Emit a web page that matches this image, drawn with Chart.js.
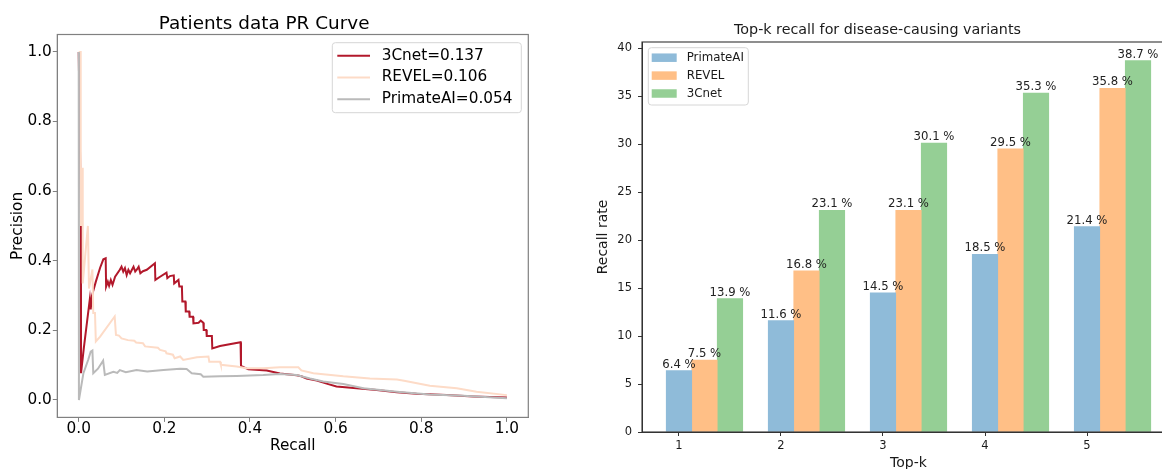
<!DOCTYPE html>
<html>
<head>
<meta charset="utf-8">
<script src="https://cdn.jsdelivr.net/npm/chart.js@4.4.1/dist/chart.umd.min.js"></script>
<style>
    html, body { margin: 0; padding: 0; background: #fff; overflow: hidden; width: 1162px; height: 469px; }
    #prChart { position: absolute; left: 0; top: 0; }
    #topkChart { position: absolute; left: 580px; top: 0; }
</style>
</head>
<body>
<canvas id="prChart" width="586" height="469"></canvas>
<canvas id="topkChart" width="657" height="480"></canvas>
<script>
// PR curve (recall / precision)
const cnetRecall = [0, 0.0054, 0.0054, 0.012, 0.020, 0.026, 0.028, 0.031, 0.040, 0.050,
    0.0575, 0.063, 0.064, 0.068, 0.071, 0.075, 0.079, 0.085, 0.096, 0.100,
    0.104, 0.108, 0.112, 0.116, 0.120, 0.128, 0.132, 0.136, 0.140, 0.144,
    0.150, 0.159, 0.178, 0.179, 0.190, 0.205, 0.207, 0.213, 0.222, 0.223,
    0.233, 0.235, 0.241, 0.242, 0.249, 0.250, 0.258, 0.259, 0.267, 0.268,
    0.280, 0.285, 0.291, 0.292, 0.298, 0.299, 0.311, 0.312, 0.330, 0.378,
    0.379, 0.384, 0.396, 0.439, 0.470, 0.509, 0.520, 0.532, 0.556, 0.579,
    0.602, 0.649, 0.696, 0.743, 0.789, 0.859, 0.922, 1.0];
const cnetPrecision = [1.0, 0.50, 0.077, 0.15, 0.23, 0.29, 0.26, 0.30, 0.34, 0.38,
    0.404, 0.407, 0.326, 0.340, 0.328, 0.345, 0.331, 0.354, 0.374, 0.383,
    0.369, 0.379, 0.359, 0.374, 0.364, 0.383, 0.369, 0.375, 0.383, 0.364,
    0.370, 0.374, 0.393, 0.345, 0.354, 0.366, 0.350, 0.356, 0.358, 0.335,
    0.345, 0.326, 0.326, 0.283, 0.283, 0.254, 0.254, 0.239, 0.239, 0.220,
    0.222, 0.228, 0.222, 0.201, 0.201, 0.184, 0.184, 0.148, 0.155, 0.166,
    0.098, 0.095, 0.088, 0.085, 0.076, 0.071, 0.068, 0.062, 0.056, 0.047,
    0.039, 0.034, 0.029, 0.022, 0.018, 0.014, 0.010, 0.007];

const revelRecall = [0, 0.0047, 0.0047, 0.0094, 0.0094, 0.0215, 0.024, 0.032, 0.034, 0.038,
    0.040, 0.050, 0.084, 0.087, 0.094, 0.100, 0.115, 0.130, 0.134, 0.150,
    0.155, 0.185, 0.190, 0.203, 0.205, 0.220, 0.224, 0.237, 0.244, 0.276,
    0.303, 0.305, 0.330, 0.332, 0.369, 0.392, 0.431, 0.470, 0.513, 0.520,
    0.548, 0.618, 0.680, 0.743, 0.760, 0.820, 0.883, 0.929, 1.0];
const revelPrecision = [1.0, 1.0, 0.50, 0.667, 0.335, 0.50, 0.32, 0.375, 0.25, 0.25,
    0.168, 0.182, 0.240, 0.187, 0.185, 0.177, 0.172, 0.170, 0.165, 0.163,
    0.154, 0.150, 0.144, 0.140, 0.134, 0.130, 0.120, 0.125, 0.115, 0.123,
    0.125, 0.110, 0.110, 0.101, 0.096, 0.091, 0.091, 0.094, 0.094, 0.085,
    0.077, 0.068, 0.062, 0.059, 0.055, 0.041, 0.034, 0.024, 0.014];

const primateRecall = [0, 0.0005, 0.011, 0.022, 0.028, 0.032, 0.034, 0.045, 0.057, 0.061,
    0.081, 0.090, 0.096, 0.110, 0.135, 0.160, 0.198, 0.237, 0.252, 0.264,
    0.285, 0.291, 0.330, 0.369, 0.431, 0.470, 0.509, 0.540, 0.571, 0.618,
    0.665, 0.743, 0.820, 0.898, 1.0];
const primatePrecision = [1.0, 0.0, 0.077, 0.115, 0.139, 0.142, 0.077, 0.090, 0.113, 0.072,
    0.081, 0.078, 0.086, 0.080, 0.086, 0.082, 0.086, 0.090, 0.089, 0.077,
    0.074, 0.067, 0.068, 0.069, 0.072, 0.075, 0.072, 0.062, 0.053, 0.046,
    0.034, 0.024, 0.016, 0.012, 0.005];

const prLabels = ["3Cnet=0.137", "REVEL=0.106", "PrimateAI=0.054"];
const prTicks = [0, 0.2, 0.4, 0.6, 0.8, 1.0];

// Top-k recall (%)
const topK = [1, 2, 3, 4, 5];
const topkLabels = ["PrimateAI", "REVEL", "3Cnet"];
const primateTopK = [6.4, 11.6, 14.5, 18.5, 21.4];
const revelTopK = [7.5, 16.8, 23.1, 29.5, 35.8];
const cnetTopK = [13.9, 23.1, 30.1, 35.3, 38.7];

const FONT = "DejaVu Sans";

function toPoints(xs, ys) {
    return xs.map((x, i) => ({ x: x, y: ys[i] }));
}

// box round the plot area (matplotlib spines)
const framePlugin = {
    id: "frame",
    afterDraw(chart, args, o) {
        const { ctx, chartArea: a } = chart;
        ctx.save();
        ctx.strokeStyle = o.color;
        ctx.lineWidth = o.width;
        ctx.strokeRect(a.left, a.top, a.right - a.left, a.bottom - a.top);
        ctx.restore();
    }
};

// legend inside the axes, with a light frame
const boxLegend = {
    id: "boxLegend",
    afterDraw(chart, args, o) {
        const { ctx, chartArea: a } = chart;
        const x = o.anchor === "right" ? a.right - o.offsetX - o.width : a.left + o.offsetX;
        const y = a.top + o.offsetY;
        ctx.save();
        ctx.fillStyle = "rgba(255,255,255,0.8)";
        ctx.strokeStyle = "#d6d6d6";
        ctx.lineWidth = 1;
        ctx.beginPath();
        if (ctx.roundRect) ctx.roundRect(x, y, o.width, o.height, 3);
        else ctx.rect(x, y, o.width, o.height);
        ctx.fill();
        ctx.stroke();
        ctx.font = o.font;
        ctx.textBaseline = "middle";
        chart.data.datasets.forEach((ds, i) => {
            const cy = y + o.firstRow + i * o.rowGap;
            const color = ds.borderColor && o.kind === "line" ? ds.borderColor : ds.backgroundColor;
            if (o.kind === "line") {
                ctx.strokeStyle = color;
                ctx.lineWidth = 2;
                ctx.beginPath();
                ctx.moveTo(x + o.markX, cy);
                ctx.lineTo(x + o.markX + o.markW, cy);
                ctx.stroke();
            } else {
                ctx.fillStyle = color;
                ctx.fillRect(x + o.markX, cy - o.markH / 2, o.markW, o.markH);
            }
            ctx.fillStyle = o.textColor;
            ctx.fillText(ds.label, x + o.textX, cy);
        });
        ctx.restore();
    }
};

// value labels above the bars
const barLabels = {
    id: "barLabels",
    afterDatasetsDraw(chart, args, o) {
        const { ctx } = chart;
        ctx.save();
        ctx.font = o.font;
        ctx.fillStyle = o.color;
        ctx.textAlign = "center";
        ctx.textBaseline = "alphabetic";
        chart.data.datasets.forEach((ds, i) => {
            chart.getDatasetMeta(i).data.forEach((bar, j) => {
                ctx.fillText(ds.data[j].y.toFixed(1) + " %", bar.x, bar.y - o.gap);
            });
        });
        ctx.restore();
    }
};

// ---------- left: PR curve ----------
new Chart(document.getElementById("prChart"), {
    type: "line",
    data: {
        datasets: [
            { label: prLabels[0], data: toPoints(cnetRecall, cnetPrecision), borderColor: "#b2182b", order: 2 },
            { label: prLabels[1], data: toPoints(revelRecall, revelPrecision), borderColor: "#fddbc7", order: 1 },
            { label: prLabels[2], data: toPoints(primateRecall, primatePrecision), borderColor: "#bababa", order: 0 }
        ]
    },
    options: {
        responsive: false,
        animation: false,
        elements: {
            point: { radius: 0 },
            line: { borderWidth: 2, tension: 0, fill: false }
        },
        layout: { padding: { left: 0, right: 57.7, top: 0, bottom: 0 } },
        plugins: {
            legend: { display: false },
            tooltip: { enabled: false },
            title: {
                display: true,
                text: "Patients data PR Curve",
                color: "#000",
                font: { family: FONT, size: 18.4, weight: "normal", lineHeight: 1 },
                padding: { top: 15.3, bottom: 0.8 }
            },
            frame: { color: "#808080", width: 1.2 },
            boxLegend: {
                anchor: "right", offsetX: 7, offsetY: 8.2, width: 189, height: 70,
                kind: "line", firstRow: 13, rowGap: 21.8, markX: 5, markW: 32.7, textX: 49.4,
                font: "15.3px " + FONT, textColor: "#000"
            }
        },
        scales: {
            x: {
                type: "linear",
                min: -0.05,
                max: 1.05,
                afterFit: s => { s.height = 51.6; },
                afterBuildTicks: s => { s.ticks = prTicks.map(v => ({ value: v })); },
                ticks: {
                    callback: v => v.toFixed(1),
                    color: "#000",
                    font: { family: FONT, size: 15.3 },
                    padding: -2,
                    maxRotation: 0,
                    autoSkip: false
                },
                grid: { drawOnChartArea: false, tickLength: 4.5, color: "#808080" },
                border: { display: true, color: "#808080" },
                title: {
                    display: true, text: "Recall", color: "#000",
                    font: { family: FONT, size: 15.3 },
                    padding: { top: 0, bottom: 13.8 }
                }
            },
            y: {
                type: "linear",
                min: -0.05,
                max: 1.05,
                afterFit: s => { s.width = 57.3; },
                afterBuildTicks: s => { s.ticks = prTicks.map(v => ({ value: v })); },
                ticks: {
                    callback: v => v.toFixed(1),
                    color: "#000",
                    font: { family: FONT, size: 15.3 },
                    padding: 1
                },
                grid: { drawOnChartArea: false, tickLength: 4.5, color: "#808080" },
                border: { display: true, color: "#808080" },
                title: {
                    display: true, text: "Precision", color: "#000",
                    font: { family: FONT, size: 15.3 },
                    padding: { top: 8.8, bottom: 0 }
                }
            }
        }
    },
    plugins: [framePlugin, boxLegend]
});

// ---------- right: top-k grouped bars ----------
const barW = 0.25;
function barPoints(values, shift) {
    return topK.map((k, i) => ({ x: k + shift, y: values[i] }));
}

new Chart(document.getElementById("topkChart"), {
    type: "bar",
    data: {
        datasets: [
            { label: topkLabels[0], data: barPoints(primateTopK, 0), backgroundColor: "#8fbbd9" },
            { label: topkLabels[1], data: barPoints(revelTopK, barW), backgroundColor: "#ffbf86" },
            { label: topkLabels[2], data: barPoints(cnetTopK, 2 * barW), backgroundColor: "#95cf95" }
        ]
    },
    options: {
        responsive: false,
        animation: false,
        datasets: {
            bar: { grouped: false, categoryPercentage: 1, barPercentage: 1, borderWidth: 0 }
        },
        layout: { padding: { left: 0, right: 62, top: 0, bottom: 0 } },
        plugins: {
            legend: { display: false },
            tooltip: { enabled: false },
            title: {
                display: true,
                text: "Top-k recall for disease-causing variants",
                color: "#1a1a1a",
                font: { family: FONT, size: 14.3, weight: "normal", lineHeight: 1 },
                padding: { top: 23, bottom: 4.7 }
            },
            frame: { color: "#333", width: 1.1 },
            boxLegend: {
                anchor: "left", offsetX: 6.3, offsetY: 5.7, width: 100, height: 57.3,
                kind: "patch", firstRow: 10, rowGap: 17.9, markX: 3.4, markW: 25, markH: 8.5, textX: 38.4,
                font: "11.8px " + FONT, textColor: "#1a1a1a"
            },
            barLabels: { font: "11.7px " + FONT, color: "#222", gap: 3 }
        },
        scales: {
            x: {
                type: "linear",
                offset: false,
                min: 0.6375,
                max: 5.8625,
                afterFit: s => { s.height = 48; },
                afterBuildTicks: s => { s.ticks = topK.map(v => ({ value: v })); },
                ticks: {
                    callback: v => String(v),
                    color: "#1a1a1a",
                    font: { family: FONT, size: 11.5 },
                    padding: 3,
                    maxRotation: 0,
                    autoSkip: false
                },
                grid: { drawOnChartArea: false, offset: false, tickLength: 4, color: "#333" },
                border: { display: true, color: "#333" },
                title: {
                    display: true, text: "Top-k", color: "#1a1a1a",
                    font: { family: FONT, size: 14, lineHeight: 1 },
                    padding: { top: 0, bottom: 9.7 }
                }
            },
            y: {
                type: "linear",
                min: 0,
                max: 40.635,
                afterFit: s => { s.width = 62; },
                afterBuildTicks: s => { s.ticks = [0, 5, 10, 15, 20, 25, 30, 35, 40].map(v => ({ value: v })); },
                ticks: {
                    color: "#1a1a1a",
                    font: { family: FONT, size: 11.5 },
                    padding: 6
                },
                grid: { drawOnChartArea: false, tickLength: 4, color: "#333" },
                border: { display: true, color: "#333" },
                title: {
                    display: true, text: "Recall rate", color: "#1a1a1a",
                    font: { family: FONT, size: 14 },
                    padding: { top: 15, bottom: 0 }
                }
            }
        }
    },
    plugins: [framePlugin, boxLegend, barLabels]
});
</script>
</body>
</html>
